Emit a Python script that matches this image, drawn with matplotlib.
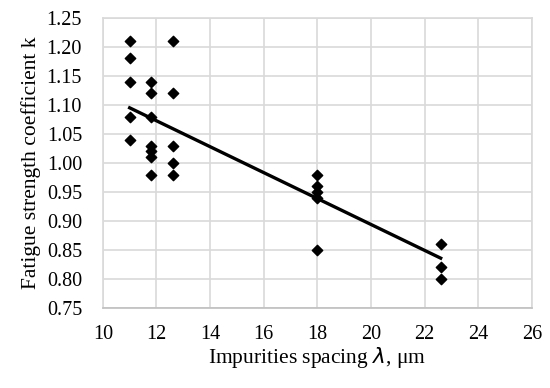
import numpy as np
import matplotlib.pyplot as plt

plt.rcParams['font.family'] = ['Liberation Serif', 'DejaVu Serif']

spacing = [11.0, 11.0, 11.0, 11.0, 11.0,
           11.8, 11.8, 11.8, 11.8, 11.8, 11.8, 11.8,
           12.6, 12.6, 12.6, 12.6, 12.6,
           18.0, 18.0, 18.0, 18.0, 18.0,
           22.6, 22.6, 22.6]
coef_k = [1.21, 1.18, 1.14, 1.08, 1.04,
          1.14, 1.12, 1.08, 1.03, 1.02, 1.01, 0.98,
          1.21, 1.12, 1.03, 1.00, 0.98,
          0.98, 0.96, 0.95, 0.94, 0.85,
          0.86, 0.82, 0.80]

# linear trend line as drawn in the figure
trend_x = [11.0, 22.6]
trend_k = [1.095, 0.836]

fig = plt.figure(figsize=(5.5, 3.88), dpi=100)
ax = fig.add_axes([0.187, 0.206, 0.780, 0.748])

ax.scatter(spacing, coef_k, marker='D', s=28, color='black', zorder=3)
ax.plot(trend_x, trend_k, color='black', lw=2.4, zorder=4)

yt = np.arange(0.75, 1.251, 0.05)
ax.set_xlim(10, 26)
ax.set_ylim(0.75, 1.25)
ax.set_xticks(np.arange(10, 27, 2))
ax.set_yticks(yt)
ax.set_yticklabels([f'{v:.2f}' for v in yt])
ax.grid(True, color='#d9d9d9', lw=1.2)
ax.set_axisbelow(True)
for s in ax.spines.values():
    s.set_color('#d9d9d9')
    s.set_linewidth(1.2)
ax.spines['bottom'].set_color('#bfbfbf')
ax.tick_params(length=0, labelsize=14.5)
ax.tick_params(axis='y', pad=15)
ax.tick_params(axis='x', pad=12)

ax.set_xlabel('Impurities spacing $\\it{λ}$, μm', fontsize=15.5, labelpad=1)
ax.set_ylabel('Fatigue strength coefficient k', fontsize=15.5, labelpad=4)

plt.savefig('out.png')
